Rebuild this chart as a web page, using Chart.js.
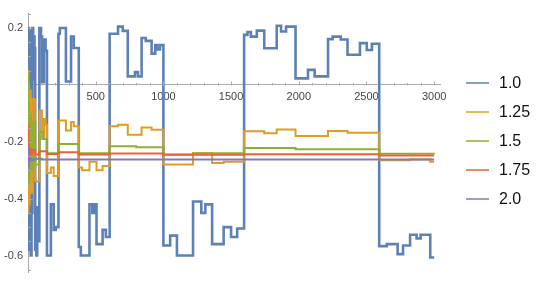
<!DOCTYPE html>
<html>
<head>
<meta charset="utf-8">
<script src="https://cdn.jsdelivr.net/npm/chart.js@4/dist/chart.umd.min.js"></script>
<style>
  html, body { margin: 0; padding: 0; background: #fff; }
</style>
</head>
<body>
<canvas id="chart" width="540" height="287"></canvas>
<script>
"use strict";

// series labels and tick values
const seriesNames = ["1.0", "1.25", "1.5", "1.75", "2.0"];
const xTicks = [500, 1000, 1500, 2000, 2500, 3000];
const yTicks = [-0.6, -0.4, -0.2, 0.2];

// step series (x where a step starts, y level)
const blueX = [1, 2, 3, 4, 7.5, 12, 16, 20, 26, 32, 38, 43, 48, 53, 62, 68, 76, 84, 96, 104, 118, 130,
  140, 169, 190, 205, 225, 235, 280, 318, 338, 375, 390, 454, 475, 490, 506, 551, 575,
  603, 665, 700, 737, 790, 812, 839, 870, 913, 940, 955, 975,
  1000, 1050, 1100, 1219, 1280, 1310, 1360, 1445, 1500, 1545,
  1596, 1621, 1646, 1690, 1745, 1837, 1869, 1906, 1976, 2068, 2117, 2216, 2250, 2310, 2360, 2452, 2502, 2540,
  2594, 2650, 2730, 2770, 2822, 2870, 2900, 2971, 3000];
const blueY = [0.2, -0.5, 0.15, 0.2, -0.58, 0.19, 0.12, -0.6, -0.45, 0.2, 0.02, 0.17, 0.13, -0.58, -0.6, -0.43, -0.55, 0.2, 0.17, 0.01, 0.16, 0.12,
  -0.6, -0.42, -0.51, -0.5, 0.18, 0.2, 0.012, 0.17, 0.13, -0.57, -0.6, -0.42, -0.45, -0.42, -0.56, -0.51, -0.535,
  0.18, 0.205, 0.19, 0.03, 0.045, 0.03, 0.165, 0.155, 0.11, 0.14, 0.125, 0.14,
  -0.565, -0.53, -0.6, -0.41, -0.45, -0.42, -0.56, -0.5, -0.535, -0.505,
  0.176, 0.186, 0.17, 0.191, 0.129, 0.208, 0.188, 0.205, 0.023, 0.053, 0.03, 0.161, 0.17, 0.16, 0.106, 0.147, 0.123, 0.145,
  -0.567, -0.56, -0.595, -0.565, -0.527, -0.54, -0.527, -0.607, -0.607];

const orangeX = [1, 2, 3, 4, 7.5, 12, 20, 32, 53, 84, 104, 118, 130, 140, 169, 190, 225, 280, 318, 338,
  375, 400, 454, 506, 551, 603, 665, 737, 839, 913, 1000, 1219, 1360, 1445,
  1596, 1745, 1837, 1976, 2216, 2360, 2594, 2822, 2971, 3000];
const orangeY = [0.05, -0.45, -0.05, 0.0, -0.42, -0.02, -0.38, -0.05, -0.34, -0.09, -0.19, -0.12, -0.14, -0.31, -0.29, -0.32, -0.125, -0.16, -0.13, -0.145,
  -0.29, -0.3, -0.27, -0.3, -0.285, -0.145, -0.14, -0.175, -0.15, -0.158, -0.28, -0.24, -0.275, -0.27,
  -0.163, -0.17, -0.157, -0.18, -0.162, -0.168, -0.265, -0.262, -0.27, -0.27];

const greenX = [1, 2, 3, 4, 7.5, 12, 20, 32, 53, 84, 110, 140, 225, 375, 603, 800, 1000, 1219, 1596, 1976, 2594, 3000];
const greenY = [0.03, -0.35, -0.05, -0.08, -0.33, -0.1, -0.3, -0.13, -0.28, -0.165, -0.19, -0.24, -0.208, -0.24, -0.216, -0.219, -0.245, -0.24, -0.222, -0.226, -0.242, -0.243];

const redX = [1, 2, 3, 5, 8, 12, 20, 32, 53, 84, 140, 225, 375, 603, 1000, 1596, 2594, 3000];
const redY = [-0.14, -0.28, -0.2, -0.23, -0.26, -0.225, -0.245, -0.228, -0.245, -0.233, -0.243, -0.237, -0.245, -0.241, -0.246, -0.244, -0.248, -0.248];

const purpleX = [1, 2, 3, 5, 10, 20, 40, 100, 3000];
const purpleY = [-0.22, -0.29, -0.25, -0.27, -0.258, -0.265, -0.26, -0.262, -0.262];

const seriesX = [blueX, orangeX, greenX, redX, purpleX];
const seriesY = [blueY, orangeY, greenY, redY, purpleY];
const seriesColors = ["#5e81b5", "#e19c24", "#8fb032", "#eb6235", "#8778b3"];

Chart.defaults.font.family = "'Liberation Sans', Arial, sans-serif";

// small inward tick marks, Mathematica style
const tickMarks = {
  id: "tickMarks",
  afterDraw(chart) {
    const { ctx, scales: { x, y } } = chart;
    const y0 = Math.round(y.getPixelForValue(0)) + 0.5;
    const x0 = Math.round(x.getPixelForValue(0)) + 0.5;
    ctx.save();
    ctx.strokeStyle = "#aaaaaa";
    ctx.lineWidth = 1;
    ctx.beginPath();
    for (let v = 100; v <= x.max; v += 100) {
      const px = Math.round(x.getPixelForValue(v)) + 0.5;
      const len = v % 500 === 0 ? 4 : 2.5;
      ctx.moveTo(px, y0);
      ctx.lineTo(px, y0 - len);
    }
    for (let k = -13; k <= 5; k++) {
      if (k === 0) continue;
      const py = Math.round(y.getPixelForValue(k * 0.05)) + 0.5;
      const len = k % 4 === 0 ? 4 : 2.5;
      ctx.moveTo(x0, py);
      ctx.lineTo(x0 + len, py);
    }
    ctx.stroke();
    ctx.restore();
  }
};

// legend on the right, lines plus labels
const sideLegend = {
  id: "sideLegend",
  afterDraw(chart) {
    const ctx = chart.ctx;
    ctx.save();
    ctx.font = "16px 'Liberation Sans', Arial, sans-serif";
    ctx.textBaseline = "middle";
    chart.data.datasets.forEach((ds, i) => {
      const cy = 83 + i * 29;
      ctx.strokeStyle = ds.borderColor;
      ctx.lineWidth = 1.5;
      ctx.beginPath();
      ctx.moveTo(466, cy);
      ctx.lineTo(489, cy);
      ctx.stroke();
      ctx.fillStyle = "#111";
      ctx.fillText(ds.label, 499, cy + 1);
    });
    ctx.restore();
  }
};

const datasets = seriesNames.map((name, i) => ({
  label: name,
  data: seriesX[i].map((x, j) => ({ x: x, y: seriesY[i][j] })),
  borderColor: seriesColors[i],
  backgroundColor: seriesColors[i],
  borderWidth: i === 0 ? 2.6 : 2,
  stepped: "before",
  pointRadius: 0,
  fill: false,
  order: 4 - i,
}));

const ctx = document.getElementById("chart");
const chart = new Chart(ctx, {
  type: "line",
  data: { datasets: datasets },
  options: {
    responsive: false,
    animation: false,
    devicePixelRatio: 1,
    layout: { padding: { top: 13, bottom: 15, right: 100, left: 0 } },
    plugins: { legend: { display: false }, tooltip: { enabled: false } },
    scales: {
      x: {
        type: "linear",
        min: 0,
        max: 3043,
        position: { y: 0 },
        afterBuildTicks: (s) => { s.ticks = xTicks.map((value) => ({ value })); },
        grid: { display: true, drawOnChartArea: false, drawTicks: false },
        border: { color: "#aaaaaa", width: 1 },
        ticks: { color: "#444", font: { size: 11 }, padding: 5, maxRotation: 0, autoSkip: false,
          callback: (v) => String(v) },
      },
      y: {
        type: "linear",
        min: -0.658,
        max: 0.253,
        position: "left",
        afterFit: (s) => { s.width = 28; },
        afterBuildTicks: (s) => { s.ticks = yTicks.map((value) => ({ value })); },
        grid: { display: true, drawOnChartArea: false, drawTicks: false },
        border: { color: "#aaaaaa", width: 1 },
        ticks: { color: "#444", font: { size: 11 }, padding: 5, autoSkip: false,
          callback: (v) => v.toFixed(1) },
      },
    },
  },
  plugins: [tickMarks, sideLegend],
});
</script>
</body>
</html>
